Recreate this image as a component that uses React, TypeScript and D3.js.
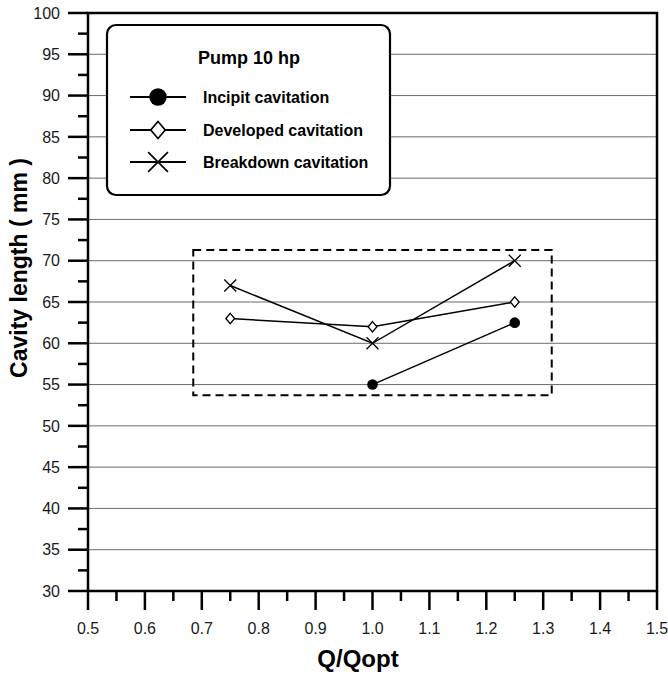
import React from "react";
import * as d3 from "d3";

const xTicks = [0.5, 0.6, 0.7, 0.8, 0.9, 1.0, 1.1, 1.2, 1.3, 1.4, 1.5];
const yTicks = [30, 35, 40, 45, 50, 55, 60, 65, 70, 75, 80, 85, 90, 95, 100];

const incipitX = [1.0, 1.25];
const incipitY = [55, 62.5];
const developedX = [0.75, 1.0, 1.25];
const developedY = [63, 62, 65];
const breakdownX = [0.75, 1.0, 1.25];
const breakdownY = [67, 60, 70];

const boxX = [0.685, 1.315];
const boxY = [53.7, 71.3];

const legendLabels = ["Incipit cavitation", "Developed cavitation", "Breakdown cavitation"];

const W = 668, H = 677;
const L = 88, R = 657, T = 13, B = 591;

export default function App() {
  const x = d3.scaleLinear().domain([0.5, 1.5]).range([L, R]);
  const y = d3.scaleLinear().domain([30, 100]).range([B, T]);
  const line = d3.line<[number, number]>().x(d => x(d[0])).y(d => y(d[1]));
  const zip = (a: number[], b: number[]) => a.map((v, i) => [v, b[i]] as [number, number]);
  const inc = zip(incipitX, incipitY);
  const dev = zip(developedX, developedY);
  const brk = zip(breakdownX, breakdownY);
  const xMinor = d3.range(0.55, 1.5, 0.1);
  const yMinor = d3.range(32.5, 100, 5);
  const font = "Arial, 'Liberation Sans', sans-serif";
  const tickCol = "#1a1a1a";

  const circle = (cx: number, cy: number, k: string, s = 1) => <circle key={k} cx={cx} cy={cy} r={5.3 * s} fill="#000" />;
  const diamond = (cx: number, cy: number, k: string, s = 1) => (
    <path key={k} d={`M${cx},${cy - 5.2 * s}L${cx + 4.4 * s},${cy}L${cx},${cy + 5.2 * s}L${cx - 4.4 * s},${cy}Z`} fill="#fff" stroke="#000" strokeWidth={1.3 * Math.sqrt(s)} />
  );
  const cross = (cx: number, cy: number, k: string, s = 1) => (
    <path key={k} d={`M${cx - 6 * s},${cy - 6 * s}L${cx + 6 * s},${cy + 6 * s}M${cx - 6 * s},${cy + 6 * s}L${cx + 6 * s},${cy - 6 * s}`} stroke="#000" strokeWidth={1.3 * Math.sqrt(s)} />
  );

  const legY = [97, 130, 162];
  const markers = [circle, diamond, cross];

  return (
    <svg width={W} height={H} style={{ position: "absolute", left: 0, top: 0 }} fontFamily={font}>
      <rect width={W} height={H} fill="#fff" />
      {yTicks.slice(1, -1).map(t => (
        <line key={"g" + t} x1={L} x2={R} y1={y(t)} y2={y(t)} stroke="#6b6b6b" strokeWidth={1} />
      ))}
      {/* dashed box */}
      <rect x={x(boxX[0])} y={y(boxY[1])} width={x(boxX[1]) - x(boxX[0])} height={y(boxY[0]) - y(boxY[1])}
        fill="none" stroke="#000" strokeWidth={2} strokeDasharray="8,5" />
      {/* data lines */}
      {[inc, dev, brk].map((d, i) => (
        <path key={"l" + i} d={line(d) || ""} fill="none" stroke="#000" strokeWidth={1.5} />
      ))}
      {inc.map((d, i) => circle(x(d[0]), y(d[1]), "c" + i))}
      {dev.map((d, i) => diamond(x(d[0]), y(d[1]), "d" + i))}
      {brk.map((d, i) => cross(x(d[0]), y(d[1]), "x" + i))}
      {/* frame */}
      <rect x={L} y={T} width={R - L} height={B - T} fill="none" stroke="#000" strokeWidth={2.5} />
      {/* y ticks */}
      {yTicks.map(t => (
        <g key={"yt" + t}>
          <line x1={L - 20} x2={L} y1={y(t)} y2={y(t)} stroke="#000" strokeWidth={2.5} />
          <text x={L - 28} y={y(t)} dy="0.36em" textAnchor="end" fontSize={16} fill={tickCol}>{t}</text>
        </g>
      ))}
      {yMinor.map(t => (
        <line key={"ym" + t} x1={L - 10} x2={L} y1={y(t)} y2={y(t)} stroke="#000" strokeWidth={2.5} />
      ))}
      {/* x ticks */}
      {xTicks.map(t => (
        <g key={"xt" + t}>
          <line x1={x(t)} x2={x(t)} y1={B} y2={B + 19} stroke="#000" strokeWidth={2.5} />
          <text x={x(t)} y={B + 43} textAnchor="middle" fontSize={16} fill={tickCol}>{t.toFixed(1)}</text>
        </g>
      ))}
      {xMinor.map(t => (
        <line key={"xm" + t} x1={x(t)} x2={x(t)} y1={B} y2={B + 10} stroke="#000" strokeWidth={2.5} />
      ))}
      {/* axis titles */}
      <text x={358} y={667} textAnchor="middle" fontSize={24} fontWeight="bold">Q/Qopt</text>
      <text transform={`translate(27,268) rotate(-90)`} textAnchor="middle" fontSize={23} fontWeight="bold">Cavity length ( mm )</text>
      {/* legend */}
      <rect x={107} y={25} width={283} height={170} rx={9} fill="#fff" stroke="#000" strokeWidth={2.2} />
      <text x={249} y={64} textAnchor="middle" fontSize={18} fontWeight="bold">Pump 10 hp</text>
      {legendLabels.map((lab, i) => (
        <g key={"lg" + i}>
          <line x1={130} x2={186} y1={legY[i]} y2={legY[i]} stroke="#000" strokeWidth={2} />
          {markers[i](158, legY[i], "lm" + i, 1.65)}
          <text x={203} y={legY[i]} dy="0.36em" fontSize={16} fontWeight="bold">{lab}</text>
        </g>
      ))}
    </svg>
  );
}
